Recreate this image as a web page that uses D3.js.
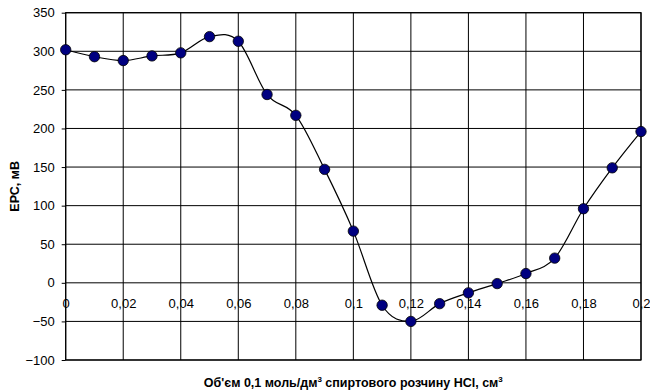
<!DOCTYPE html>
<html>
<head>
<meta charset="utf-8">
<script src="https://cdn.jsdelivr.net/npm/d3@7"></script>
<style>
  body { margin: 0; background: #fff; }
  text { font-family: "Liberation Sans", Arial, sans-serif; }
</style>
</head>
<body>
<svg id="chart" width="650" height="392"></svg>
<script>
const volumes = [0, 0.01, 0.02, 0.03, 0.04, 0.05, 0.06, 0.07, 0.08, 0.09, 0.1,
    0.11, 0.12, 0.13, 0.14, 0.15, 0.16, 0.17, 0.18, 0.19, 0.2];
const emf = [302, 293, 288, 294, 298, 319, 313, 244, 217, 147, 67,
    -29, -50, -27, -13, -1, 12, 32, 96, 149, 196];
const xTicks = [0, 0.02, 0.04, 0.06, 0.08, 0.1, 0.12, 0.14, 0.16, 0.18, 0.2];
const yTicks = [-100, -50, 0, 50, 100, 150, 200, 250, 300, 350];

const svg = d3.select("#chart");
const margin = { top: 12.7, right: 9, bottom: 32, left: 65.7 };
const width = 650, height = 392;
const plotW = width - margin.left - margin.right;
const plotH = height - margin.top - margin.bottom;

const chart = svg.append("g")
    .attr("transform", `translate(${margin.left},${margin.top})`);

const x = d3.scaleLinear().domain([0, 0.2]).range([0, plotW]);
const y = d3.scaleLinear().domain([-100, 350]).range([plotH, 0]);
const fmt = d => String(+d.toFixed(2)).replace(".", ",");

// gridlines
chart.append("g")
    .selectAll("line.h")
    .data(yTicks)
    .join("line")
    .attr("x1", 0).attr("x2", plotW)
    .attr("y1", d => y(d)).attr("y2", d => y(d))
    .attr("stroke", "#000").attr("stroke-width", 1);

chart.append("g")
    .selectAll("line.v")
    .data(xTicks)
    .join("line")
    .attr("x1", d => x(d)).attr("x2", d => x(d))
    .attr("y1", 0).attr("y2", plotH)
    .attr("stroke", "#000").attr("stroke-width", 1);

chart.append("rect")
    .attr("width", plotW).attr("height", plotH)
    .attr("fill", "none").attr("stroke", "#000").attr("stroke-width", 1.2);

// y axis
const leftAxis = d3.axisLeft(y).tickValues(yTicks).tickSize(4).tickPadding(7);
chart.append("g")
    .call(leftAxis)
    .call(g => g.select(".domain").remove())
    .call(g => g.selectAll("text").attr("font-size", 13).attr("font-family", "Liberation Sans, Arial").attr("fill", "#000"));

// x axis labels sit on the zero line
const bottomAxis = d3.axisBottom(x).tickValues(xTicks).tickSize(0).tickPadding(16).tickFormat(fmt);
chart.append("g")
    .attr("transform", `translate(0,${y(0)})`)
    .call(bottomAxis)
    .call(g => g.select(".domain").remove())
    .call(g => g.selectAll("text").attr("font-size", 13).attr("font-family", "Liberation Sans, Arial").attr("fill", "#000"));

// curve
const points = volumes.map((v, i) => [v, emf[i]]);
const lineGen = d3.line()
    .x(d => x(d[0]))
    .y(d => y(d[1]))
    .curve(d3.curveCardinal.tension(0));

chart.append("path")
    .datum(points)
    .attr("fill", "none")
    .attr("stroke", "#000")
    .attr("stroke-width", 1.2)
    .attr("d", lineGen);

chart.selectAll("circle")
    .data(points)
    .join("circle")
    .attr("cx", d => x(d[0]))
    .attr("cy", d => y(d[1]))
    .attr("r", 5.2)
    .attr("fill", "#000080")
    .attr("stroke", "#000")
    .attr("stroke-width", 0.8);

// titles
svg.append("text")
    .attr("transform", `translate(19,${margin.top + plotH / 2}) rotate(-90)`)
    .attr("text-anchor", "middle")
    .attr("font-size", 12.5)
    .attr("font-weight", "bold")
    .text("ЕРС, мВ");

const xTitle = svg.append("text")
    .attr("x", margin.left + plotW / 2)
    .attr("y", 387)
    .attr("text-anchor", "middle")
    .attr("font-size", 12.5)
    .attr("font-weight", "bold");
xTitle.append("tspan").text("Об'єм 0,1 моль/дм");
xTitle.append("tspan").attr("font-size", 8).attr("dy", -5).text("3");
xTitle.append("tspan").attr("dy", 5).text(" спиртового розчину HCl, см");
xTitle.append("tspan").attr("font-size", 8).attr("dy", -5).text("3");
</script>
</body>
</html>
